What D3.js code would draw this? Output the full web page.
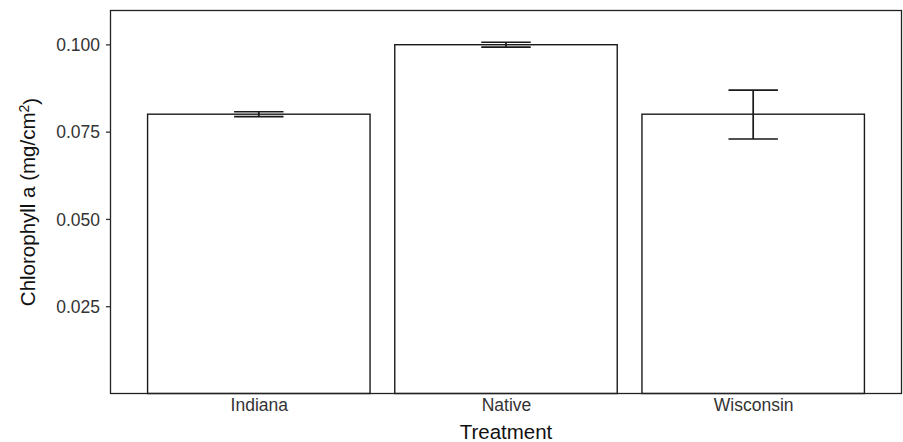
<!DOCTYPE html>
<html>
<head>
<meta charset="utf-8">
<script src="https://cdn.jsdelivr.net/npm/d3@7"></script>
<style>
  html, body { margin: 0; padding: 0; background: #fff; }
  svg { display: block; font-family: "Liberation Sans", Arial, Helvetica, sans-serif; }
</style>
</head>
<body>
<svg id="chart" width="903" height="442"></svg>
<script>
// Chlorophyll a by treatment: mean with error bars
const categories = ["Indiana", "Native", "Wisconsin"];
const means = [0.0800, 0.0999, 0.0800];
const lower = [0.0793, 0.0992, 0.0729];
const upper = [0.0807, 0.1006, 0.0869];
const yTicks = [0.025, 0.050, 0.075, 0.100];
const yTickLabels = ["0.025", "0.050", "0.075", "0.100"];

const data = categories.map((c, i) => ({ cat: c, mean: means[i], lo: lower[i], hi: upper[i] }));

const svg = d3.select("#chart");
const W = 903, H = 442;
const panel = { left: 110.5, right: 901.5, top: 10.5, bottom: 393.5 };

const x = d3.scalePoint()
  .domain(categories)
  .range([panel.left, panel.right])
  .padding(0.6);
const step = x.step();
const barW = step * 0.9;
const capW = step * 0.2;

const y = d3.scaleLinear()
  .domain([0, 0.1097])
  .range([panel.bottom, panel.top]);

// panel background
svg.append("rect")
  .attr("x", panel.left).attr("y", panel.top)
  .attr("width", panel.right - panel.left)
  .attr("height", panel.bottom - panel.top)
  .attr("fill", "#fff");

// bars
svg.append("g").selectAll("rect")
  .data(data)
  .join("rect")
  .attr("x", d => x(d.cat) - barW / 2)
  .attr("y", d => y(d.mean))
  .attr("width", barW)
  .attr("height", d => y(0) - y(d.mean))
  .attr("fill", "#fff")
  .attr("stroke", "#1a1a1a")
  .attr("stroke-width", 1.4);

// error bars
const eb = svg.append("g")
  .attr("stroke", "#1a1a1a")
  .attr("stroke-width", 1.7)
  .attr("fill", "none");
eb.selectAll("path")
  .data(data)
  .join("path")
  .attr("d", d => {
    const cx = x(d.cat), t = y(d.hi), b = y(d.lo);
    return `M${cx - capW / 2},${t}H${cx + capW / 2}M${cx},${t}V${b}M${cx - capW / 2},${b}H${cx + capW / 2}`;
  });

// panel border
svg.append("rect")
  .attr("x", panel.left).attr("y", panel.top)
  .attr("width", panel.right - panel.left)
  .attr("height", panel.bottom - panel.top)
  .attr("fill", "none")
  .attr("stroke", "#222")
  .attr("stroke-width", 1.3);

// y axis
const yAxis = d3.axisLeft(y)
  .tickValues(yTicks)
  .tickFormat((d, i) => yTickLabels[i])
  .tickSize(4.5)
  .tickPadding(6);
const gy = svg.append("g")
  .attr("transform", `translate(${panel.left},0)`)
  .call(yAxis);
gy.select(".domain").remove();
gy.selectAll(".tick line").attr("stroke", "#333").attr("stroke-width", 1.3);
gy.selectAll(".tick text")
  .attr("fill", "#333")
  .style("font-size", "17.5px")
  .attr("dy", "0.36em");

// x axis
const xAxis = d3.axisBottom(x).tickSize(0).tickPadding(5);
const gx = svg.append("g")
  .attr("transform", `translate(0,${panel.bottom})`)
  .call(xAxis);
gx.select(".domain").remove();
gx.selectAll(".tick text")
  .attr("fill", "#333")
  .style("font-size", "17.5px");

// axis titles
svg.append("text")
  .attr("x", (panel.left + panel.right) / 2)
  .attr("y", 438.5)
  .attr("text-anchor", "middle")
  .style("font-size", "20.5px")
  .attr("fill", "#111")
  .text("Treatment");

const yt = svg.append("text")
  .attr("transform", `translate(35,${(panel.top + panel.bottom) / 2}) rotate(-90)`)
  .attr("text-anchor", "middle")
  .style("font-size", "20.5px")
  .attr("fill", "#111");
yt.append("tspan").text("Chlorophyll a (mg/cm");
yt.append("tspan").attr("dy", "-0.45em").style("font-size", "14px").text("2");
yt.append("tspan").attr("dy", "0.45em").text(")");
</script>
</body>
</html>
